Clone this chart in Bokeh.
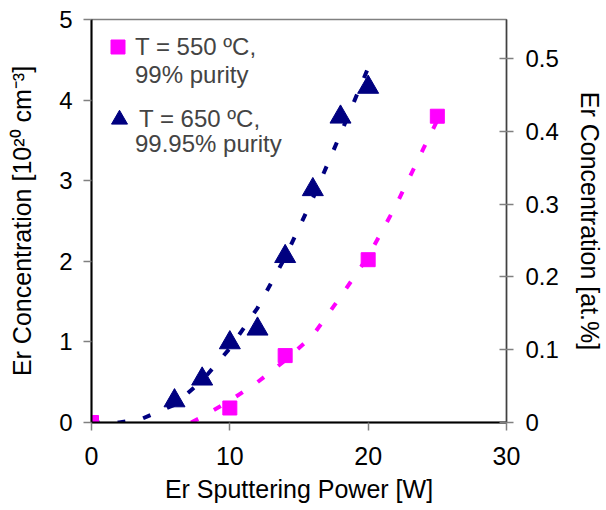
from bokeh.plotting import figure
from bokeh.models import Range1d, LinearAxis, FixedTicker, Legend, LegendItem
from bokeh.embed import file_html
from bokeh.resources import INLINE

# Measured data
power_550 = [0, 10, 14, 20, 25]
conc_550 = [0.0, 0.18, 0.83, 2.02, 3.80]
power_650 = [6, 8, 10, 12, 14, 16, 18, 20]
conc_650 = [0.27, 0.54, 0.99, 1.16, 2.06, 2.89, 3.79, 4.16]

# Trend lines
fit_power_550 = [7.2, 8, 10, 12, 14, 16, 18, 20, 22, 24, 25]
fit_conc_550 = [0.0, 0.07, 0.27, 0.50, 0.77, 1.08, 1.56, 2.06, 2.69, 3.40, 3.75]
fit_power_650 = [0, 2, 3.7, 6, 8, 10, 12, 14, 16, 18, 20]
fit_conc_650 = [0.0, 0.0, 0.05, 0.22, 0.52, 0.92, 1.42, 2.05, 2.78, 3.58, 4.40]

x_ticks = [0, 10, 20, 30]
y_ticks = [0, 1, 2, 3, 4, 5]
at_ticks = [0, 0.1, 0.2, 0.3, 0.4, 0.5]

label_550 = ["T = 550 ºC,", "99% purity"]
label_650 = ["T = 650 ºC,", "99.95% purity"]
right_title = "Er Concentration [at.%]"

FONT = "Liberation Sans"
MAGENTA = "#FF00FF"
NAVY = "#000080"

p = figure(width=606, height=510, output_backend="svg", toolbar_location=None,
           x_range=Range1d(0, 30), y_range=Range1d(0, 5),
           min_border_left=91, min_border_right=99, min_border_top=19, min_border_bottom=88)
p.extra_y_ranges = {"at": Range1d(0, 0.5537)}
p.grid.visible = False
p.outline_line_color = "#808080"
p.outline_line_width = 1.5
p.background_fill_color = "white"
p.border_fill_color = "white"

def style_axis(ax, tick_fs):
    ax.axis_label_text_font = FONT
    ax.axis_label_text_font_size = "25px"
    ax.axis_label_text_font_style = "normal"
    ax.axis_label_text_color = "black"
    ax.major_label_text_font = FONT
    ax.major_label_text_font_size = tick_fs
    ax.major_label_text_color = "black"
    ax.minor_tick_line_color = None
    ax.major_tick_line_color = "#808080"
    ax.major_tick_line_width = 1.5

xa = p.xaxis[0]
style_axis(xa, "25px")
xa.ticker = FixedTicker(ticks=x_ticks)
xa.axis_label = "Er Sputtering Power [W]"
xa.axis_line_color = "black"
xa.axis_line_width = 2
xa.major_tick_in = 0
xa.major_tick_out = 8
xa.major_label_standoff = 16
xa.axis_label_standoff = 7

ya = p.yaxis[0]
style_axis(ya, "24px")
ya.ticker = FixedTicker(ticks=y_ticks)
ya.axis_label = "Er Concentration [10²⁰ cm⁻³]"
ya.axis_line_color = "black"
ya.axis_line_width = 2
ya.major_tick_in = 0
ya.major_tick_out = 8
ya.major_label_standoff = 11
ya.axis_label_standoff = 20

ra = LinearAxis(y_range_name="at", ticker=FixedTicker(ticks=at_ticks),
                axis_label=right_title)
style_axis(ra, "24px")
ra.axis_line_color = "#404040"
ra.axis_line_width = 1.5
ra.major_tick_in = 7
ra.major_tick_out = 7
ra.major_label_standoff = 12
ra.axis_label_standoff = 14
ra.major_label_overrides = {0: "0"}
p.add_layout(ra, "right")

dash = "8 18"
l550 = p.line(fit_power_550, fit_conc_550, line_color=MAGENTA, line_width=4, line_dash=dash)
l650 = p.line(fit_power_650, fit_conc_650, line_color=NAVY, line_width=4, line_dash=dash)

s550 = p.scatter(power_550, conc_550, marker="square", size=14,
                 fill_color=MAGENTA, line_color=MAGENTA)
s650 = p.scatter(power_650, conc_650, marker="triangle", size=21,
                 fill_color=NAVY, line_color=NAVY)
# transparent, empty renderer used for second lines of the legend labels
blank = p.scatter(x=[], y=[], marker="square", fill_alpha=0, line_alpha=0)

def make_legend(label, renderer, loc, gw, gh):
    lg = Legend(items=[LegendItem(label=label, renderers=[renderer])], location=loc)
    lg.label_text_font = FONT
    lg.label_text_font_size = "24px"
    lg.label_height = gh
    lg.border_line_color = None
    lg.background_fill_alpha = 0
    lg.margin = 0
    lg.padding = 0
    lg.spacing = 0
    lg.label_standoff = 0
    lg.glyph_width = gw
    lg.glyph_height = gh
    return lg

p.add_layout(make_legend(label_550[0], s550, (9, 358), 35, 35))
p.add_layout(make_legend(label_550[1], blank, (9, 333), 35, 27))
p.add_layout(make_legend(label_650[0], s650, (8, 283), 40, 40))
p.add_layout(make_legend(label_650[1], blank, (9, 264), 35, 27))

open("out.html", "w").write(file_html(p, INLINE))
